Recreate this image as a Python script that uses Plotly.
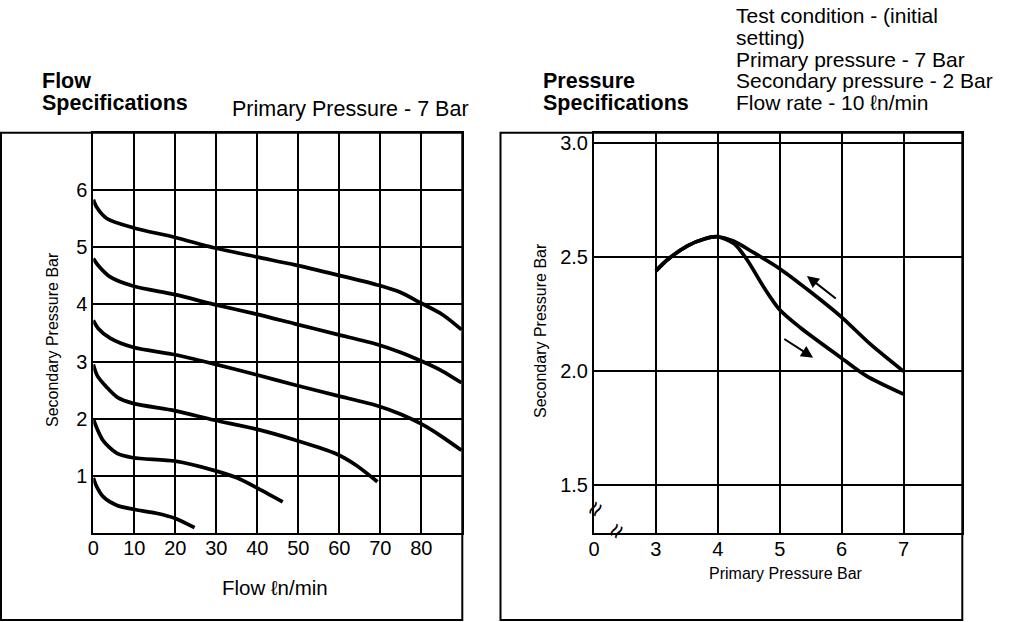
import plotly.graph_objects as go

W, H = 1024, 622

# ---------------- data ----------------
flow_ticks = [0, 10, 20, 30, 40, 50, 60, 70, 80]
flow_tick_labels = ["0", "10", "20", "30", "40", "50", "60", "70", "80"]
sec_ticks_left = [1, 2, 3, 4, 5, 6]

c1_x = [0, 0.8, 3.3, 9.7, 20, 29.4, 39.8, 49.2, 59.2, 69.3, 74.6, 80, 85.2, 89.8]
c1_y = [5.83, 5.70, 5.50, 5.34, 5.17, 4.99, 4.83, 4.69, 4.52, 4.34, 4.22, 4.02, 3.82, 3.56]
c2_x = [0, 1.2, 4.1, 9.7, 20, 29.4, 39.8, 49.2, 59.2, 69.3, 75, 80, 85, 89.8]
c2_y = [4.80, 4.68, 4.48, 4.32, 4.17, 4.00, 3.83, 3.66, 3.48, 3.30, 3.16, 3.01, 2.84, 2.63]
c3_x = [0, 1.2, 4.1, 9.7, 20, 29.4, 39.8, 49.2, 59.2, 69.3, 75, 80, 85, 89.8]
c3_y = [3.72, 3.58, 3.41, 3.25, 3.12, 2.96, 2.77, 2.59, 2.41, 2.23, 2.08, 1.91, 1.69, 1.45]
c4_x = [0, 1, 3.3, 6, 9.7, 20, 29.4, 39.8, 49.2, 59.2, 64.1, 69.3]
c4_y = [2.95, 2.75, 2.55, 2.37, 2.27, 2.14, 1.98, 1.82, 1.63, 1.39, 1.19, 0.90]
c5_x = [0, 0.8, 2.4, 5.7, 9.7, 20, 29.4, 35, 39.8, 46.2]
c5_y = [2.00, 1.85, 1.62, 1.40, 1.32, 1.26, 1.10, 0.97, 0.80, 0.55]
c6_x = [0, 0.8, 2.4, 5.7, 9.7, 15.4, 20, 24.7]
c6_y = [0.97, 0.82, 0.64, 0.49, 0.42, 0.35, 0.26, 0.10]

prim_ticks = [2, 3, 4, 5, 6, 7]
prim_tick_labels = ["0", "3", "4", "5", "6", "7"]
sec_ticks_right = [1.5, 2.0, 2.5, 3.0]
sec_tick_labels_right = ["1.5", "2.0", "2.5", "3.0"]

rise_x = [3.0, 3.19, 3.51, 3.78, 3.99]
rise_y = [2.44, 2.49, 2.55, 2.58, 2.59]
up_x = [3.99, 4.26, 4.58, 5.0, 5.49, 5.99, 6.46, 7.0]
up_y = [2.59, 2.57, 2.52, 2.45, 2.35, 2.24, 2.12, 2.00]
low_x = [3.99, 4.26, 4.47, 4.74, 5.0, 5.34, 5.99, 6.4, 7.0]
low_y = [2.59, 2.56, 2.49, 2.37, 2.27, 2.19, 2.06, 1.98, 1.90]

# arrows (tail -> head) in data units of the right chart
arrow_up = (5.93, 2.314, 5.44, 2.418)
arrow_down = (5.05, 2.146, 5.54, 2.06)

# ---------------- helpers ----------------
def PX(x):
    return x / W

def PY(y):
    return 1 - y / H

FONT = "Liberation Sans, Arial, Helvetica, sans-serif"
LW = 3.7

fig = go.Figure()

for xs, ys in [(c1_x, c1_y), (c2_x, c2_y), (c3_x, c3_y), (c4_x, c4_y), (c5_x, c5_y), (c6_x, c6_y)]:
    fig.add_trace(go.Scatter(x=xs, y=ys, mode="lines", xaxis="x", yaxis="y",
                             line=dict(color="black", width=LW, shape="spline", smoothing=0.8),
                             showlegend=False, hoverinfo="skip"))

fig.add_trace(go.Scatter(x=rise_x + up_x[1:], y=rise_y + up_y[1:], mode="lines", xaxis="x2", yaxis="y2",
                         line=dict(color="black", width=LW, shape="spline", smoothing=0.8),
                         showlegend=False, hoverinfo="skip"))
fig.add_trace(go.Scatter(x=rise_x + low_x[1:], y=rise_y + low_y[1:], mode="lines", xaxis="x2", yaxis="y2",
                         line=dict(color="black", width=LW, shape="spline", smoothing=0.8),
                         showlegend=False, hoverinfo="skip"))

ax_common = dict(showline=True, mirror=True, linecolor="black", linewidth=2,
                 showgrid=True, gridcolor="black", gridwidth=2, zeroline=False,
                 ticks="", automargin=False,
                 tickfont=dict(family=FONT, size=20, color="black"), fixedrange=True)

y_dom = [PY(533.3), PY(132.7)]

fig.update_layout(
    width=W, height=H,
    margin=dict(l=0, r=0, t=0, b=0, pad=0),
    paper_bgcolor="white", plot_bgcolor="white",
    xaxis=dict(domain=[PX(93.3), PX(462.3)], range=[0, 90], tickvals=flow_ticks,
               ticktext=flow_tick_labels, anchor="y", ticklabelstandoff=-4, **ax_common),
    yaxis=dict(domain=y_dom, range=[0, 7], tickvals=sec_ticks_left, anchor="x",
               ticklabelstandoff=0, **ax_common),
    xaxis2=dict(domain=[PX(594), PX(962.3)], range=[2, 7.95], tickvals=prim_ticks,
                ticktext=prim_tick_labels, anchor="y2", ticklabelstandoff=-3, **ax_common),
    yaxis2=dict(domain=y_dom, range=[1.29, 3.046], tickvals=sec_ticks_right,
                ticktext=sec_tick_labels_right, anchor="x2", ticklabelstandoff=0, **ax_common),
)

# outer boxes
fig.add_shape(type="rect", xref="paper", yref="paper", x0=PX(1), x1=PX(462.3),
              y0=PY(620), y1=PY(132.7), line=dict(color="black", width=2), layer="below")
fig.add_shape(type="rect", xref="paper", yref="paper", x0=PX(500.5), x1=PX(962.3),
              y0=PY(620), y1=PY(132.7), line=dict(color="black", width=2), layer="below")

def text(t, x, y, size=21.5, bold=False, angle=0, xanchor="left"):
    if bold:
        t = "<b>" + t + "</b>"
    fig.add_annotation(text=t, xref="paper", yref="paper", x=PX(x), y=PY(y),
                       xanchor=xanchor, yanchor="middle", showarrow=False, textangle=angle,
                       font=dict(family=FONT, size=size, color="black"))

# headers
text("Flow", 40, 81, bold=True)
text("Specifications", 40, 103, bold=True)
text("Primary Pressure - 7 Bar", 230, 109)
text("Pressure", 541, 81, bold=True)
text("Specifications", 541, 103, bold=True)
for i, line in enumerate(["Test condition - (initial", "setting)", "Primary pressure - 7 Bar",
                          "Secondary pressure - 2 Bar", "Flow rate - 10 \u2113n/min"]):
    text(line, 734, 15.5 + i * 21.8, size=21)

# axis titles
text("Flow \u2113n/min", 275, 587, size=20.5, xanchor="center")
text("Primary Pressure Bar", 786, 573, size=16, xanchor="center")
text("Secondary Pressure Bar", 52, 340, size=16, angle=-90, xanchor="center")
text("Secondary Pressure Bar", 540, 331, size=16, angle=-90, xanchor="center")

# axis break marks
text("\u2248", 595, 509, size=26, angle=-60, xanchor="center")
text("\u2248", 616, 531, size=26, angle=-60, xanchor="center")

# arrows
for (tx, ty, hx, hy) in [arrow_up, arrow_down]:
    fig.add_annotation(x=hx, y=hy, ax=tx, ay=ty, xref="x2", yref="y2", axref="x2", ayref="y2",
                       text="", showarrow=True, arrowhead=2, arrowsize=1.2, arrowwidth=2,
                       arrowcolor="black")

fig.write_html("out.html", config={"displayModeBar": False},
               post_script="document.body.style.margin='0px';document.body.style.overflow='hidden';")
